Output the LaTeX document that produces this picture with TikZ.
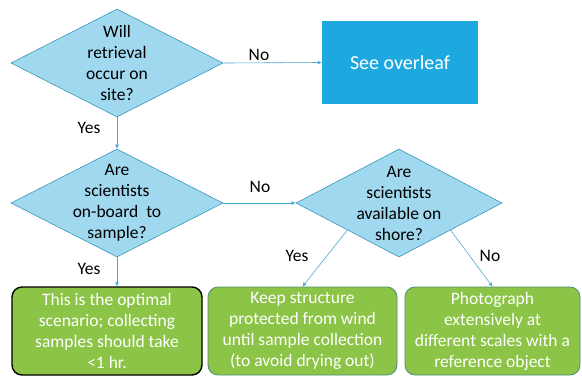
\documentclass[tikz,border=0pt]{standalone}
\usepackage{fontspec}
\setmainfont{Carlito}
\usetikzlibrary{shapes.geometric,arrows.meta}
\definecolor{qfill}{RGB}{160,216,239}
\definecolor{qline}{RGB}{60,150,185}
\definecolor{arrowblue}{RGB}{70,170,215}
\definecolor{boxblue}{RGB}{29,169,224}
\definecolor{boxgreen}{RGB}{139,196,70}
\definecolor{boxedge}{RGB}{80,140,120}
\begin{document}
\begin{tikzpicture}[x=1pt, y=-1pt, font=\fontsize{17.5}{21}\selectfont,
    quest/.style={diamond, draw=qline, fill=qfill, line width=0.6pt, inner sep=0pt,
                  minimum width=212pt, minimum height=108pt},
    qtext/.style={align=center, text=black},
    outcome/.style={draw=boxedge, fill=boxgreen, rounded corners=10pt, line width=0.8pt,
                    minimum height=88pt, align=center, text=white},
    flow/.style={draw=arrowblue, line width=0.6pt, -{Latex[length=4pt,width=4pt]}},
    answer/.style={text=black}]
  \useasboundingbox (0,0) rectangle (582,376);
  % questions
  \node[quest, label={[qtext]center:{Will\\retrieval\\occur on\\site?}}] (onsite) at (117,63) {};
  \node[quest, label={[qtext]center:{Are\\scientists\\on-board\ \ to\\sample?}}] (onboard) at (117,203) {};
  \node[quest, minimum width=206pt, label={[qtext]center:{Are\\scientists\\available on\\shore?}}] (shore) at (399,203) {};
  % outcomes
  \node[draw=none, fill=boxblue, minimum width=156pt, minimum height=83pt, text=white,
        font=\fontsize{20}{24}\selectfont] (overleaf) at (400,62.5) {See overleaf};
  \node[outcome, draw=black, line width=1.4pt, minimum width=190pt] (optimal) at (107,331) {This is the optimal\\scenario; collecting\\samples should take\\<1 hr.};
  \node[outcome, minimum width=189pt] (protect) at (302.5,331) {Keep structure\\protected from wind\\until sample collection\\(to avoid drying out)};
  \node[outcome, minimum width=175pt] (photo) at (492.5,331) {Photograph\\extensively at\\different scales with a\\reference object};
  % connectors
  \draw[flow] (onsite.east) -- (overleaf.west);
  \draw[flow] (onsite.south) -- (onboard.north);
  \draw[flow] (onboard.east) -- (shore.west);
  \draw[flow] (onboard.south) -- (onboard.south |- optimal.north);
  \draw[flow] (shore.south west) -- (protect.north);
  \draw[flow] (shore.south east) -- (photo.north);
  % answers
  \node[answer] (no1) at (259,55) {No};
  \node[answer] (yes1) at (89,128) {Yes};
  \node[answer] (no2) at (260,187) {No};
  \node[answer] (yes2) at (89,269) {Yes};
  \node[answer] (yes3) at (297,256) {Yes};
  \node[answer] (no3) at (490,256) {No};
\end{tikzpicture}
\end{document}
